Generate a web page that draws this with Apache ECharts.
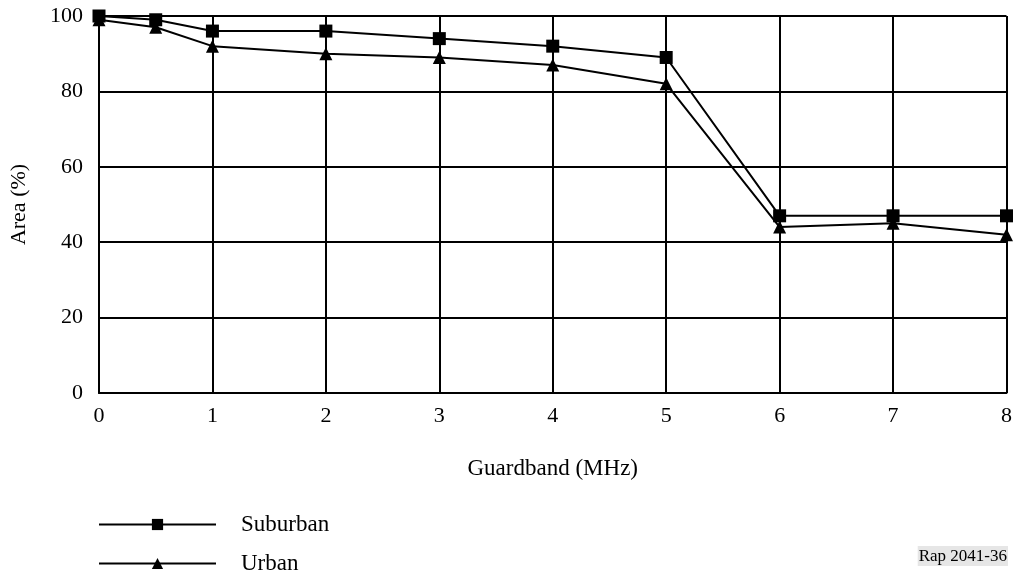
<!DOCTYPE html>
<html><head><meta charset="utf-8">
<script src="https://cdn.jsdelivr.net/npm/echarts@6/dist/echarts.min.js"></script>
<style>html,body{margin:0;padding:0;background:#fff}#c{width:1015px;height:578px}</style>
</head><body><div id="c"></div>
<script>
const guardband = [0, 0.5, 1, 2, 3, 4, 5, 6, 7, 8];
const suburban = [100, 99, 96, 96, 94, 92, 89, 47, 47, 47];
const urban = [99, 97, 92, 90, 89, 87, 82, 44, 45, 42];
const xTicks = [0, 1, 2, 3, 4, 5, 6, 7, 8];
const yTicks = [0, 20, 40, 60, 80, 100];
const seriesNames = ['Suburban', 'Urban'];

const font = 'Liberation Serif';
const chart = echarts.init(document.getElementById('c'));
const pair = (xs, ys) => xs.map((x, i) => [x, ys[i]]);
const legendBase = {
  orient: 'horizontal', left: 98, padding: 0,
  itemWidth: 117, itemHeight: 14,
  textStyle: { fontFamily: font, fontSize: 23, color: '#000', padding: [0, 0, 0, 20] }
};
chart.setOption({
  animation: false,
  textStyle: { fontFamily: font, color: '#000' },
  grid: { left: 99, right: 8, top: 16, bottom: 185, containLabel: false },
  xAxis: {
    type: 'value', min: xTicks[0], max: xTicks[xTicks.length - 1], interval: 1,
    name: 'Guardband (MHz)', nameLocation: 'middle', nameGap: 64,
    nameTextStyle: { fontFamily: font, fontSize: 23, color: '#000' },
    axisLine: { show: true, lineStyle: { color: '#000', width: 2 } },
    axisTick: { show: false },
    axisLabel: { fontFamily: font, fontSize: 22, color: '#000', margin: 12 },
    splitLine: { show: true, lineStyle: { color: '#000', width: 2 } }
  },
  yAxis: {
    type: 'value', min: yTicks[0], max: yTicks[yTicks.length - 1], interval: 20,
    name: 'Area (%)', nameLocation: 'middle', nameGap: 69, nameRotate: 90,
    nameTextStyle: { fontFamily: font, fontSize: 22, color: '#000' },
    axisLine: { show: true, lineStyle: { color: '#000', width: 2 } },
    axisTick: { show: false },
    axisLabel: { fontFamily: font, fontSize: 22, color: '#000', margin: 16 },
    splitLine: { show: true, lineStyle: { color: '#000', width: 2 } }
  },
  legend: [
    Object.assign({}, legendBase, { top: 513, data: [seriesNames[0]] }),
    Object.assign({}, legendBase, { top: 552, data: [seriesNames[1]] })
  ],
  series: [
    { name: seriesNames[0], type: 'line', data: pair(guardband, suburban),
      symbol: 'rect', symbolSize: 13, itemStyle: { color: '#000' },
      lineStyle: { color: '#000', width: 2 } },
    { name: seriesNames[1], type: 'line', data: pair(guardband, urban),
      symbol: 'triangle', symbolSize: 13, itemStyle: { color: '#000' },
      lineStyle: { color: '#000', width: 2 } }
  ],
  graphic: [{
    type: 'text', right: 7, top: 546,
    style: { text: 'Rap 2041-36', font: '17px "Liberation Serif"', fill: '#000',
      backgroundColor: '#e6e6e6', padding: [2, 1, 1, 1] }
  }]
});
</script></body></html>
